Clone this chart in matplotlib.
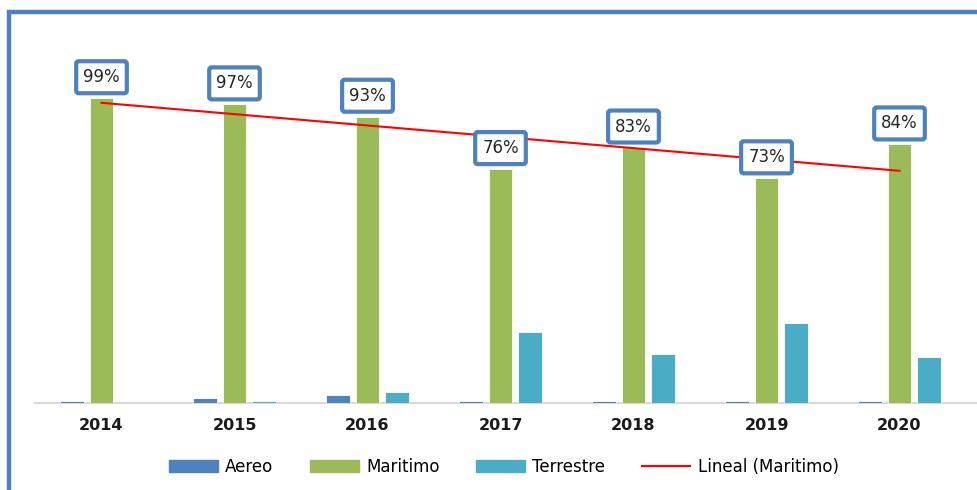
import numpy as np
import matplotlib
matplotlib.use("Agg")
import matplotlib.pyplot as plt
from matplotlib.patches import Rectangle, Patch
from matplotlib.lines import Line2D

years = ["2014", "2015", "2016", "2017", "2018", "2019", "2020"]
aereo = [0.7, 1.6, 2.6, 0.7, 0.7, 0.7, 0.7]
maritimo = [99, 97, 93, 76, 83, 73, 84]
terrestre = [0.0, 0.6, 3.6, 23, 16, 26, 15]
labels = ["99%", "97%", "93%", "76%", "83%", "73%", "84%"]

C_AE = "#4F81BD"
C_MA = "#9BBB59"
C_TE = "#4BACC6"
BOX = "#4F81BD"

plt.rcParams['font.family'] = ['DejaVu Sans']

W, H = 977, 490
fig = plt.figure(figsize=(W / 100, H / 100), dpi=100)
ax = fig.add_axes([35 / W, 87 / H, 931 / W, 373 / H])
ax.set_xlim(-0.5, 6.5)
ax.set_ylim(0, 373 / 3.08)

x = np.arange(len(years))
bw = 0.178
off = 0.222
ax.bar(x - off, aereo, bw, color=C_AE, edgecolor="white", linewidth=0.6, zorder=2)
ax.bar(x, maritimo, bw, color=C_MA, edgecolor="white", linewidth=0.6, zorder=2)
ax.bar(x + off, terrestre, bw, color=C_TE, edgecolor="white", linewidth=0.6, zorder=2)

coef = np.polyfit(x, maritimo, 1)
ax.plot(x, np.polyval(coef, x), color="#FF0000", lw=1.5, zorder=3)

for xi, v, lab in zip(x, maritimo, labels):
    ax.annotate(lab, (xi, v), xytext=(0, 15), textcoords="offset points",
                ha="center", va="center", fontsize=12, color="#262626",
                bbox=dict(boxstyle="round,pad=0.42,rounding_size=0.15", fc="white",
                          ec=BOX, lw=3.0), zorder=5)

for s in ax.spines.values():
    s.set_visible(False)
ax.set_yticks([])
ax.set_xticks(x)
ax.set_xticklabels(years, fontsize=11.5, fontweight="bold", color="#1a1a1a")
ax.tick_params(axis="x", length=0, pad=11)
ax.plot([-0.5, 6.58], [0, 0], color="#D9D9D9", lw=1.5, clip_on=False, zorder=1)

# outer border (left and top visible)
fig.add_artist(Rectangle((9 / W, -0.2), 1.5, (H - 12) / H + 0.2, transform=fig.transFigure,
                         fill=False, ec=BOX, lw=3.2))

handles = [Patch(color=C_AE), Patch(color=C_MA), Patch(color=C_TE),
           Line2D([0], [0], color="#FF0000", lw=1.5)]
fig.legend(handles, ["Aereo", "Maritimo", "Terrestre", "Lineal (Maritimo)"],
           loc="center", bbox_to_anchor=(504 / W, 1 - 467 / H), ncol=4, frameon=False,
           fontsize=12, handlelength=2.9, handleheight=0.75, handletextpad=0.45,
           columnspacing=2.2)

fig.savefig("out.png", dpi=100)
